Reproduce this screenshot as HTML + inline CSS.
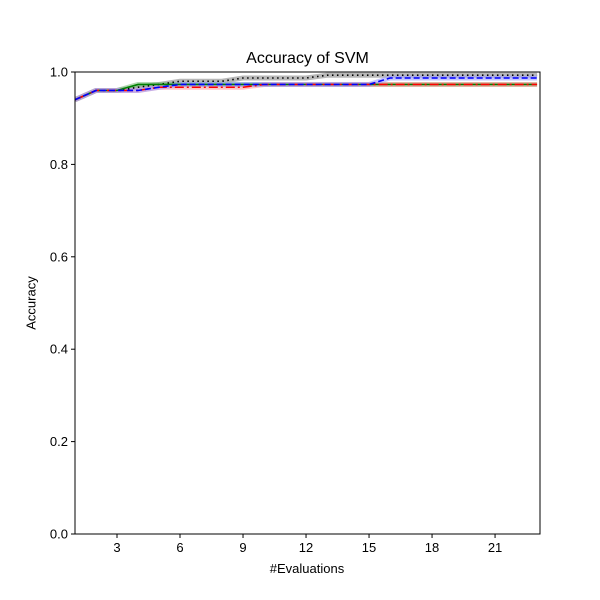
<!DOCTYPE html>
<html><head><meta charset="utf-8"><style>html,body{margin:0;background:#fff;width:600px;height:600px;overflow:hidden}svg{font-family:"Liberation Sans",sans-serif;display:block}</style></head>
<body>
<svg id="c" width="600" height="600"></svg>
<script>
const evals = [1,2,3,4,5,6,7,8,9,10,11,12,13,14,15,16,17,18,19,20,21,22,23];
const blackSeries = [.94,.96,.96,.967,.973,.98,.98,.98,.987,.987,.987,.987,.993,.993,.993,.993,.993,.993,.993,.993,.993,.993,.993];
const blueSeries = [.94,.96,.96,.96,.967,.973,.973,.973,.973,.973,.973,.973,.973,.973,.973,.987,.987,.987,.987,.987,.987,.987,.987];
const redSeries = [.94,.96,.96,.96,.967,.967,.967,.967,.967,.973,.973,.973,.973,.973,.973,.973,.973,.973,.973,.973,.973,.973,.973];
const greenSeries = [.94,.96,.96,.973,.973,.973,.973,.973,.973,.973,.973,.973,.973,.973,.973,.973,.973,.973,.973,.973,.973,.973,.973];
const xTicks = [3,6,9,12,15,18,21];
const yTicks = [0,0.2,0.4,0.6,0.8,1.0];
const L=75,R=540,T=72,B=534;
const sx=v=>L+(v-1)*(R-L)/22.14;
const sy=v=>B-v*(B-T);
const svg=document.getElementById('c');
const NS='http://www.w3.org/2000/svg';
function mk(tag,attrs,parent){const e=document.createElementNS(NS,tag);for(const k in attrs)e.setAttribute(k,attrs[k]);(parent||svg).appendChild(e);return e;}
const clip=mk('clipPath',{id:'cp'});mk('rect',{x:L,y:T,width:R-L,height:B-T},clip);
const g=mk('g',{'clip-path':'url(#cp)'});
const series=[
 {d:blackSeries,c:'#000',band:'#888',dash:'1.5,3.5',name:'black-dotted-series'},
 {d:greenSeries,c:'#008000',band:'#7fbf7f',dash:'',name:'green-solid-series'},
 {d:redSeries,c:'#f00',band:'#ff9f9f',dash:'9,3,2,3',name:'red-dashdot-series'},
 {d:blueSeries,c:'#00f',band:'#9f9fff',dash:'6,3',name:'blue-dashed-series'}];
series.forEach(s=>{
 const pts=evals.map((x,i)=>sx(x)+','+sy(s.d[i])).join(' ');
 const b=mk('polyline',{points:pts,fill:'none',stroke:s.band,'stroke-width':5,'stroke-opacity':0.6},g);
 
 
});
series.forEach(s=>{
 const pts=evals.map((x,i)=>sx(x)+','+sy(s.d[i])).join(' ');
 const l=mk('polyline',{points:pts,fill:'none',stroke:s.c,'stroke-width':1.6,'stroke-dasharray':s.dash},g);
 
 
});
const f=mk('rect',{x:L,y:T,width:R-L,height:B-T,fill:'none',stroke:'#000','stroke-width':1});


xTicks.forEach(t=>{
 mk('line',{x1:sx(t),x2:sx(t),y1:B,y2:B+4,stroke:'#000'});
 const e=mk('text',{x:sx(t),y:B+18,'text-anchor':'middle','font-size':13});e.textContent=t;
 
 
});
yTicks.forEach(t=>{
 mk('line',{x1:L-4,x2:L,y1:sy(t),y2:sy(t),stroke:'#000'});
 const e=mk('text',{x:L-7,y:sy(t)+4.5,'text-anchor':'end','font-size':13});e.textContent=t.toFixed(1);
 
 
});
</script>
<div style="position:absolute;left:0;top:0;width:600px;height:600px;pointer-events:none">
<div style="position:absolute;top:50px;left:0;width:615px;text-align:center;font:16px 'Liberation Sans',sans-serif">Accuracy of SVM</div>
<div style="position:absolute;top:561px;left:0;width:614px;text-align:center;font:13px 'Liberation Sans',sans-serif">#Evaluations</div>
<div style="position:absolute;top:303px;left:31px;transform:translate(-50%,-50%) rotate(-90deg);font:13px 'Liberation Sans',sans-serif">Accuracy</div>
</div>
</body></html>
